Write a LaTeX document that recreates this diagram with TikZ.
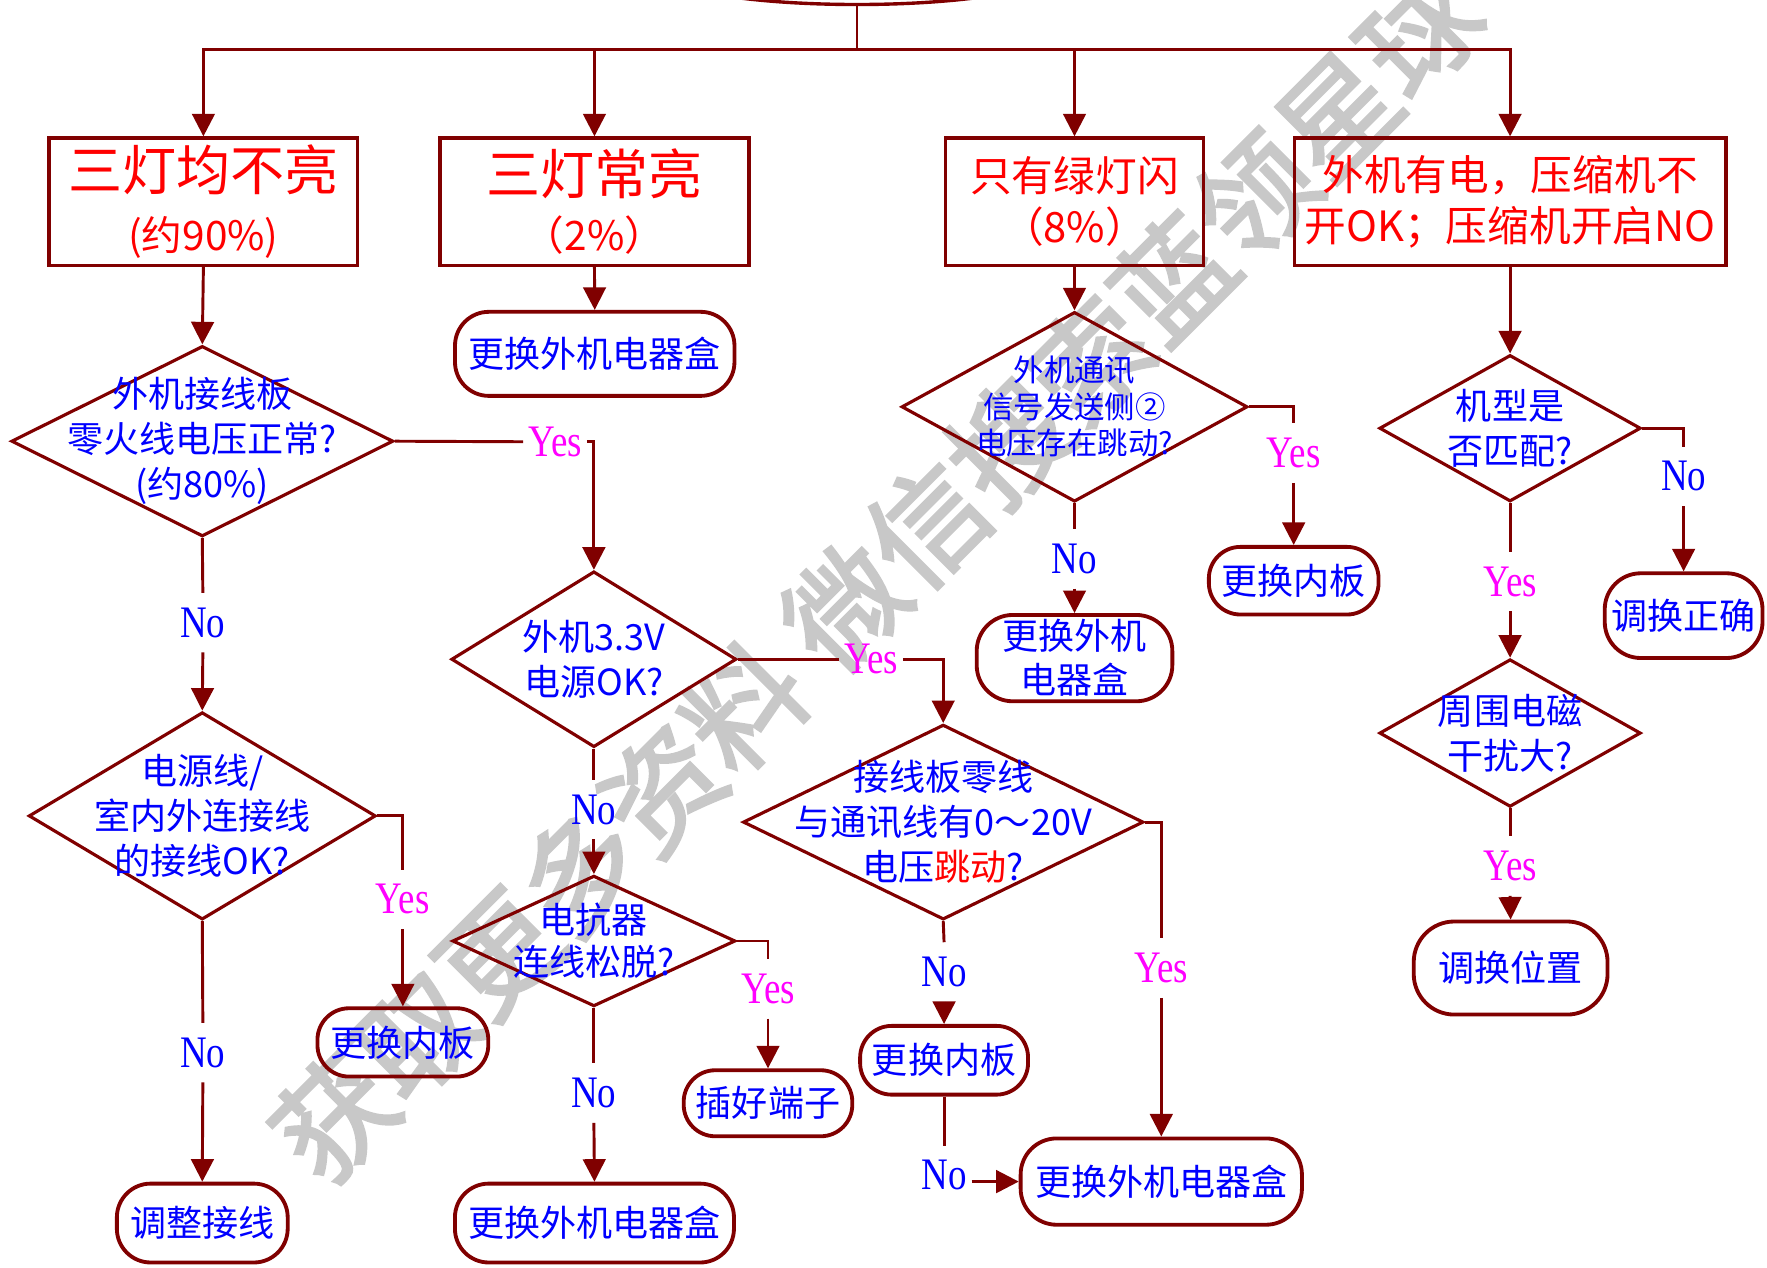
\documentclass[tikz,border=0pt]{standalone}
\usepackage{fontspec}
\usetikzlibrary{shapes.geometric,arrows.meta}
\newfontfamily\cjk{Noto Sans CJK SC}
\newfontfamily\wmfont{Noto Sans CJK SC}[FakeBold=2.5]
\newfontfamily\yn{Liberation Serif}[FakeStretch=0.82]
\definecolor{dred}{RGB}{128,0,0}
\definecolor{tblue}{RGB}{0,0,255}
\definecolor{tred}{RGB}{255,0,0}
\definecolor{tmag}{RGB}{255,0,255}
\definecolor{wmgray}{RGB}{200,200,200}
\begin{document}
\begin{tikzpicture}[x=0.5pt,y=-0.5pt,
  conn/.style={draw=dred,line width=1.3pt},
  arr/.style={conn,-{Triangle[length=10pt,width=10pt]}},
  bigbox/.style={draw=dred,line width=1.5pt,rectangle,inner sep=1pt,align=center,text=tred},
  dia/.style={draw=dred,line width=1.4pt,diamond,inner sep=0pt},
  dtext/.style={align=center,text=tblue,font=\cjk\fontsize{16}{20}\selectfont,inner sep=0pt},
  pill/.style={draw=dred,line width=1.7pt,rectangle,rounded corners=14pt,inner sep=1pt,align=center,text=tblue,font=\cjk\fontsize{16}{19.5}\selectfont},
  lab/.style={inner xsep=2pt,inner ysep=0pt,minimum height=26pt,font=\yn\fontsize{20}{24}\selectfont},
  yes/.style={lab,text=tmag},
  no/.style={lab,text=tblue}
]
\useasboundingbox (0,0) rectangle (1568,1125);
\clip (0,0) rectangle (1568,1125);

% watermark
\node[text=wmgray,rotate=45,inner sep=0pt,font=\wmfont\fontsize{51.5}{60}\selectfont] (wm) at (778,510) {获取更多资料 微信搜索蓝领星球};

% start
\node[draw=dred,line width=1.5pt,ellipse,inner sep=0pt,minimum width=176pt,minimum height=30pt] (start) at (760.5,-26) {};
\coordinate (bus) at (760.5,43.7);

% top boxes
\node[bigbox,minimum width=137pt,minimum height=56.5pt,font=\cjk\fontsize{24}{26.5}\selectfont] (b1) at (180.5,179) {三灯均不亮\\{\fontsize{18}{22}\selectfont (约90\%)}};
\node[bigbox,minimum width=137pt,minimum height=56.5pt,font=\cjk\fontsize{24}{25}\selectfont] (b2) at (527.5,179) {三灯常亮\\{\fontsize{18}{22}\selectfont （2\%）}};
\node[bigbox,minimum width=114.5pt,minimum height=56.5pt,font=\cjk\fontsize{18.5}{22.5}\selectfont] (b3) at (953.5,179) {只有绿灯闪\\（8\%）};
\node[bigbox,minimum width=191.5pt,minimum height=56.5pt,font=\cjk\fontsize{18.5}{23}\selectfont] (b4) at (1340,179) {外机有电，压缩机不\\开OK；压缩机开启NO};

% diamonds
\node[dia,minimum width=169.5pt,minimum height=84.5pt] (d1) at (179.5,391.5) {};
\node[dtext] (d1t) at (d1) {外机接线板\\零火线电压正常?\\(约80\%)};
\node[dia,minimum width=126.5pt,minimum height=78pt] (d2) at (527,585) {};
\node[dtext] (d2t) at (d2) {外机3.3V\\电源OK?};
\node[dia,minimum width=154pt,minimum height=92pt] (d3) at (179.5,724) {};
\node[dtext] (d3t) at (d3) {电源线/\\室内外连接线\\的接线OK?};
\node[dia,minimum width=177.7pt,minimum height=86.5pt] (d4) at (837,729.5) {};
\node[dtext] (d4t) at (d4) {接线板零线\\与通讯线有0～20V\\电压\textcolor{tred}{跳动}?};
\node[dia,minimum width=125.6pt,minimum height=58pt] (d5) at (527,835) {};
\node[dtext,font=\cjk\fontsize{16}{18.5}\selectfont] (d5t) at (d5) {电抗器\\连线松脱?};
\node[dia,minimum width=153.5pt,minimum height=84.2pt] (d6) at (953.5,361) {};
\node[dtext,font=\cjk\fontsize{13.5}{16.25}\selectfont] (d6t) at (d6) {外机通讯\\信号发送侧②\\电压存在跳动?};
\node[dia,minimum width=116pt,minimum height=65pt] (d7) at (1340,380) {};
\node[dtext] (d7t) at (d7) {机型是\\否匹配?};
\node[dia,minimum width=116pt,minimum height=65.5pt] (d8) at (1340,650.5) {};
\node[dtext] (d8t) at (d8) {周围电磁\\干扰大?};

% terminals
\node[pill,minimum width=124pt,minimum height=37.3pt,rounded corners=15pt] (p1) at (527.75,314) {更换外机电器盒};
\node[pill,minimum width=75.8pt,minimum height=30.3pt] (p2) at (357.5,925) {更换内板};
\node[pill,minimum width=75.8pt,minimum height=35pt,rounded corners=15pt] (p3) at (179.5,1085.3) {调整接线};
\node[pill,minimum width=123.8pt,minimum height=35pt,rounded corners=15pt] (p4) at (527.5,1085.3) {更换外机电器盒};
\node[pill,minimum width=74.8pt,minimum height=29.3pt] (p5) at (681.5,979) {插好端子};
\node[pill,minimum width=74.5pt,minimum height=30.5pt] (p6) at (837.75,940.85) {更换内板};
\node[pill,minimum width=124.8pt,minimum height=38.3pt,rounded corners=16pt] (p7) at (1030.5,1048.5) {更换外机电器盒};
\node[pill,minimum width=75.3pt,minimum height=30pt] (p8) at (1148,515.3) {更换内板};
\node[pill,minimum width=86.8pt,minimum height=38.3pt,rounded corners=16pt] (p9) at (953.5,584) {更换外机\\电器盒};
\node[pill,minimum width=70pt,minimum height=37.6pt,rounded corners=16pt] (p10) at (1494,546.3) {调换正确};
\node[pill,minimum width=86pt,minimum height=41.3pt,rounded corners=18pt] (p11) at (1340.5,859) {调换位置};

% labels
\node[yes] (y1) at (492.5,392) {Yes};
\node[no]  (n1) at (180,552.5) {No};
\node[yes] (y2) at (773,585) {Yes};
\node[no]  (n2) at (527,718.5) {No};
\node[yes] (y3) at (357.5,798) {Yes};
\node[no]  (n3) at (180,934) {No};
\node[yes] (y5) at (681.5,877.5) {Yes};
\node[no]  (n5) at (527,970) {No};
\node[yes] (y4) at (1030.5,859) {Yes};
\node[no]  (n4) at (837.75,862.5) {No};
\node[no]  (n7) at (837.75,1043) {No};
\node[yes] (y6) at (1148,402) {Yes};
\node[no]  (n6) at (953.5,496) {No};
\node[no]  (n8) at (1494,422.7) {No};
\node[yes] (y7) at (1340,516) {Yes};
\node[yes] (y8) at (1340,768.5) {Yes};

% connectors
\draw[conn] (start.south) -- (bus);
\draw[arr] (bus) -| (b1.north);
\draw[arr] (bus) -| (b2.north);
\draw[arr] (bus) -| (b3.north);
\draw[arr] (bus) -| (b4.north);

\draw[arr] (b1.south) -- (d1.north);
\draw[conn] (d1.east) -- (y1.west);
\draw[arr] (y1.east) -| (d2.north);
\draw[conn] (d1.south) -- (n1.north);
\draw[arr] (n1.south) -- (d3.north);

\draw[arr] (b2.south) -- (p1.north);

\draw[conn] (d2.east) -- (y2.west);
\draw[arr] (y2.east) -| (d4.north);
\draw[conn] (d2.south) -- (n2.north);
\draw[arr] (n2.south) -- (d5.north);

\draw[conn] (d3.east) -| (y3.north);
\draw[arr] (y3.south) -- (p2.north);
\draw[conn] (d3.south) -- (n3.north);
\draw[arr] (n3.south) -- (p3.north);

\draw[conn] (d5.east) -| (y5.north);
\draw[arr] (y5.south) -- (p5.north);
\draw[conn] (d5.south) -- (n5.north);
\draw[arr] (n5.south) -- (p4.north);

\draw[conn] (d4.east) -| (y4.north);
\draw[arr] (y4.south) -- (p7.north);
\draw[conn] (d4.south) -- (n4.north);
\draw[arr] (n4.south) -- (p6.north);
\draw[conn] (p6.south) -- (n7.north);
\draw[arr] (n7.east |- p7.west) -- (p7.west);

\draw[arr] (b3.south) -- (d6.north);
\draw[conn] (d6.east) -| (y6.north);
\draw[arr] (y6.south) -- (p8.north);
\draw[conn] (d6.south) -- (n6.north);
\draw[arr] (n6.south) -- (p9.north);

\draw[arr] (b4.south) -- (d7.north);
\draw[conn] (d7.east) -| (n8.north);
\draw[arr] (n8.south) -- (p10.north);
\draw[conn] (d7.south) -- (y7.north);
\draw[arr] (y7.south) -- (d8.north);
\draw[conn] (d8.south) -- (y8.north);
\draw[arr] (y8.south) -- (p11.north);
\end{tikzpicture}
\end{document}
